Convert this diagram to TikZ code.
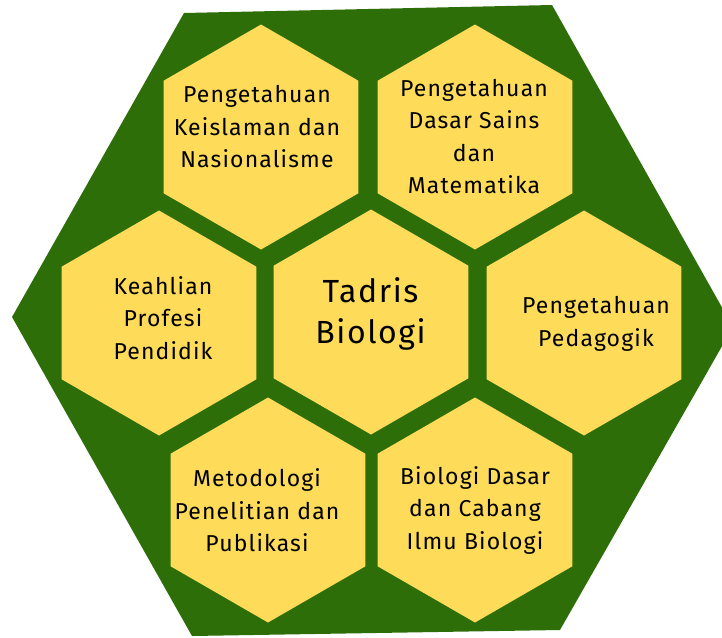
\documentclass[tikz,border=0pt]{standalone}
\usepackage{fontspec}
\setmainfont[LetterSpace=5]{Fira Sans}
\usetikzlibrary{shapes.geometric}
\definecolor{hexgreen}{RGB}{45,110,8}
\definecolor{hexyellow}{RGB}{254,220,90}
\tikzset{
  cell/.style={regular polygon, regular polygon sides=6, shape border rotate=30,
    minimum size=225pt, inner sep=0pt, outer sep=0pt, fill=hexyellow, draw=none},
  celltext/.style={align=center, font=\fontsize{23}{32.5}\selectfont, text=black, inner sep=0pt},
  centertext/.style={align=center, font=\fontsize{32}{41}\selectfont, text=black, inner sep=0pt}
}
\begin{document}
\begin{tikzpicture}[x=1pt,y=-1pt]
\useasboundingbox (0,0) rectangle (722,637);
\clip (0,0) rectangle (722,637);
\fill[hexgreen] (184,13) -- (552,5) -- (733,327) -- (560,630) -- (192,636) -- (12,317) -- cycle;
\node[cell] (h1) at (261,137) {};
\node[cell] (h2) at (475,137) {};
\node[cell] (h3) at (159,323) {};
\node[cell] (h4) at (371,322) {};
\node[cell] (h5) at (584,323) {};
\node[cell] (h6) at (268,510) {};
\node[cell] (h7) at (475,510) {};
\node[celltext] (t1) at (257,127) {Pengetahuan\\Keislaman dan\\Nasionalisme};
\node[celltext] (t2) at (474,136.5) {Pengetahuan\\Dasar Sains\\dan\\Matematika};
\node[celltext] (t3) at (163,318) {Keahlian\\Profesi\\Pendidik};
\node[centertext] (t4) at (370.5,314) {Tadris\\Biologi};
\node[celltext] (t5) at (596,324) {Pengetahuan\\Pedagogik};
\node[celltext] (t6) at (257,510.5) {Metodologi\\Penelitian dan\\Publikasi};
\node[celltext] (t7) at (475,510) {Biologi Dasar\\dan Cabang\\Ilmu Biologi};
\end{tikzpicture}
\end{document}
